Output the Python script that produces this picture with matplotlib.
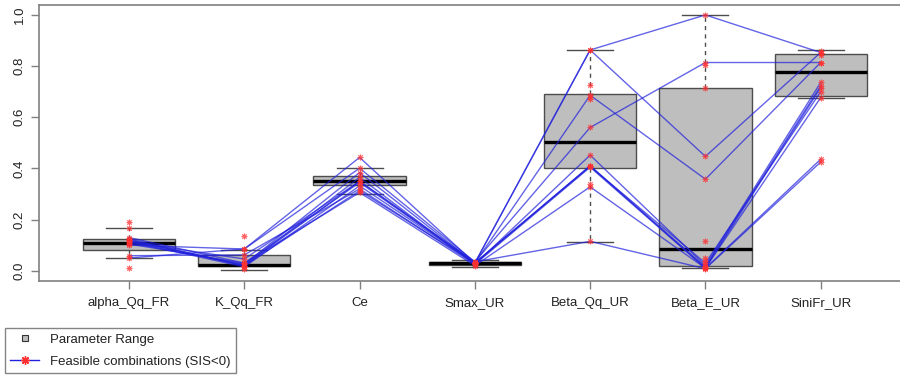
import matplotlib
matplotlib.use("Agg")
import matplotlib.pyplot as plt
from matplotlib.lines import Line2D
import numpy as np

plt.rcParams['font.family'] = ['Liberation Sans', 'DejaVu Sans']

# ---------------- data ----------------
parameters = ["alpha_Qq_FR", "K_Qq_FR", "Ce", "Smax_UR", "Beta_Qq_UR", "Beta_E_UR", "SiniFr_UR"]

box_whislo = [0.048, 0.004, 0.302, 0.013, 0.113, 0.009, 0.676]
box_q1     = [0.082, 0.017, 0.336, 0.022, 0.401, 0.020, 0.684]
box_median = [0.107, 0.022, 0.350, 0.029, 0.504, 0.087, 0.776]
box_q3     = [0.124, 0.061, 0.369, 0.035, 0.689, 0.716, 0.848]
box_whishi = [0.166, 0.083, 0.401, 0.043, 0.863, 1.000, 0.863]

# feasible combinations (SIS<0), one list per combination
combo_1  = [0.120, 0.020, 0.350, 0.030, 0.863, 1.000, 0.853]
combo_2  = [0.110, 0.025, 0.384, 0.030, 0.863, 0.447, 0.853]
combo_3  = [0.130, 0.030, 0.345, 0.030, 0.686, 0.358, 0.814]
combo_4  = [0.100, 0.085, 0.401, 0.035, 0.560, 0.814, 0.814]
combo_5  = [0.120, 0.020, 0.365, 0.025, 0.452, 0.020, 0.736]
combo_6  = [0.115, 0.015, 0.332, 0.030, 0.410, 0.015, 0.723]
combo_7  = [0.050, 0.085, 0.443, 0.030, 0.410, 0.010, 0.716]
combo_8  = [0.125, 0.020, 0.313, 0.030, 0.408, 0.030, 0.700]
combo_9  = [0.059, 0.062, 0.320, 0.025, 0.405, 0.010, 0.677]
combo_10 = [0.105, 0.029, 0.306, 0.020, 0.328, 0.010, 0.436]
combo_11 = [0.113, 0.046, 0.350, 0.035, 0.115, 0.008, 0.425]
combos = [combo_1, combo_2, combo_3, combo_4, combo_5, combo_6,
          combo_7, combo_8, combo_9, combo_10, combo_11]

# additional feasible points shown only as stars
extra_param_index = [0, 0, 0, 1, 1, 4, 4, 4, 4, 5, 5, 5, 5, 5, 6, 6]
extra_values      = [0.189, 0.167, 0.009, 0.137, 0.007, 0.727, 0.680, 0.672, 0.341,
                     0.117, 0.804, 0.716, 0.050, 0.040, 0.860, 0.845]

# ---------------- figure ----------------
W, H = 900, 378
fig = plt.figure(figsize=(W / 100, H / 100), dpi=100)
ax_left, ax_right, ax_top, ax_bottom = 39.1, 910.6, 4.7, 281.0
ax = fig.add_axes([ax_left / W, 1 - ax_bottom / H,
                   (ax_right - ax_left) / W, (ax_bottom - ax_top) / H])

stats = []
for i, name in enumerate(parameters):
    stats.append(dict(label=name, whislo=box_whislo[i], q1=box_q1[i], med=box_median[i],
                      q3=box_q3[i], whishi=box_whishi[i], fliers=[]))

positions = np.arange(1, len(parameters) + 1)
edge = '#4d4d4d'
ax.bxp(stats, positions=positions, widths=0.8, capwidths=0.4, patch_artist=True,
       showfliers=False,
       boxprops=dict(facecolor='#bebebe', edgecolor=edge, linewidth=1.0),
       medianprops=dict(color='black', linewidth=2.4, solid_capstyle='butt'),
       whiskerprops=dict(color=edge, linestyle=(0, (3, 3)), linewidth=1.0),
       capprops=dict(color=edge, linewidth=1.0), zorder=1)

star = (8, 2, 0)
star_col = '#ff3030'
for c in combos:
    ax.plot(positions, c, color='#2222dd', alpha=0.7, linewidth=1.0, zorder=3)
for c in combos:
    ax.plot(positions, c, linestyle='none', marker=star, markersize=4,
            markeredgecolor=star_col, markeredgewidth=0.7, alpha=0.75, zorder=4)
ax.plot(positions[np.array(extra_param_index)], extra_values, linestyle='none',
        marker=star, markersize=4, markeredgecolor=star_col, markeredgewidth=0.7,
        alpha=0.75, zorder=4)

ax.set_xlim(0.22, 7.78)
ax.set_ylim(-0.04, 1.04)
ax.set_xticks(positions)
ax.set_xticklabels(parameters)
ax.set_yticks([0.0, 0.2, 0.4, 0.6, 0.8, 1.0])
ax.set_yticklabels(["0.0", "0.2", "0.4", "0.6", "0.8", "1.0"], rotation=90, va='center')

spine_col = '#808080'
for s in ax.spines.values():
    s.set_color(spine_col)
    s.set_linewidth(1.2)
ax.tick_params(axis='both', colors=spine_col, labelcolor='#222222', labelsize=9.5,
               length=5.5, width=1.0)
ax.tick_params(axis='x', pad=6)
ax.tick_params(axis='y', pad=4)

handles = [
    Line2D([], [], linestyle='none', marker='s', markersize=5, markerfacecolor='#bebebe',
           markeredgecolor='#333333', markeredgewidth=0.8),
    Line2D([], [], color='#2222dd', linewidth=1.0, marker=star, markersize=6,
           markeredgecolor=star_col, markeredgewidth=1.0),
]
leg = fig.legend(handles, ["Parameter Range", "Feasible combinations (SIS<0)"],
                 loc='upper left', bbox_to_anchor=(5 / W, 1 - 328 / H),
                 frameon=True, fancybox=False, fontsize=9.5, handlelength=2.2,
                 handletextpad=0.8, borderpad=0.4, labelspacing=0.75,
                 borderaxespad=0)
leg.get_frame().set_edgecolor('#666666')
leg.get_frame().set_linewidth(1.0)
for t in leg.get_texts():
    t.set_color('#222222')

fig.savefig("out.png", dpi=100)
